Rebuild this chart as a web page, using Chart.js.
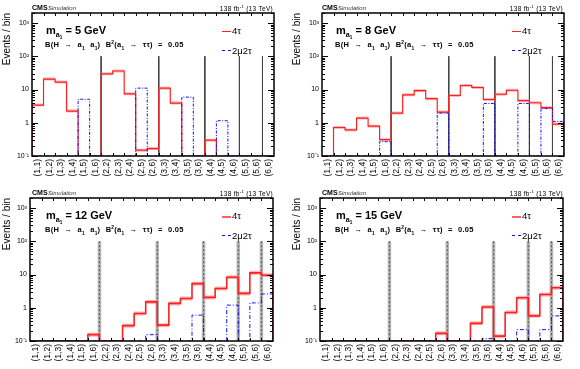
<!DOCTYPE html>
<html><head><meta charset="utf-8">
<script src="https://cdn.jsdelivr.net/npm/chart.js@4.4.0/dist/chart.umd.min.js"></script>
<style>
html,body{margin:0;padding:0;background:#fff}
body{width:580px;height:369px;overflow:hidden;position:relative;font-family:"Liberation Sans",Arial,sans-serif}
.p{position:absolute;width:290px;height:185px}
.p canvas{position:absolute;left:0;top:0}
.t{position:absolute;white-space:nowrap;color:#000;line-height:1}
.cms{font-weight:bold;font-size:7px;left:32px;top:4px}
.sim{font-style:italic;font-size:6px;left:48px;top:5px;color:#333}
.lumi{font-size:6.5px;right:17px;top:6px;letter-spacing:0.3px}
.mass{font-size:11px;left:46px;top:25px;font-weight:bold}
.br{font-size:7.5px;left:45px;top:40.5px;word-spacing:3px;letter-spacing:0.25px;font-weight:bold}
.t sub,.t sup{font-size:65%;line-height:0}
.leg{font-size:9.5px;left:232px}
.ls{position:absolute;left:222px;width:9px;height:0}
</style></head><body>
<div class="p" id="p0" style="left:0;top:0"><canvas id="c0" width="290" height="185"></canvas></div>
<div class="p" id="p1" style="left:290px;top:0"><canvas id="c1" width="290" height="185"></canvas></div>
<div class="p" id="p2" style="left:0;top:185px"><canvas id="c2" width="290" height="185"></canvas></div>
<div class="p" id="p3" style="left:290px;top:185px"><canvas id="c3" width="290" height="185"></canvas></div>
<script>
// ---- data ----
const categories = ['(1,1)','(1,2)','(1,3)','(1,4)','(1,5)','(1,6)','(2,2)','(2,3)','(2,4)','(2,5)','(2,6)','(3,3)','(3,4)','(3,5)','(3,6)','(4,4)','(4,5)','(4,6)','(5,5)','(5,6)','(6,6)'];
const yTickValues = [0.1, 1, 10, 100, 1000];
const yTickLabels = ['10\u207B\u00B9', '1', '10', '10\u00B2', '10\u00B3'];
const groupBoundaries = [6, 11, 15, 18, 20];
const massLabels = ['5', '8', '12', '15'];
const seriesNames = ['4\u03C4', '2\u03BC2\u03C4'];

const m5_4tau     = [3.4, 20.6, 16.7, 2.25, 0, 0, 29.7, 36, 7.4, 0.15, 0.167, 11, 3.9, 0, 0, 0.3, 0, 0, 0, 0, 0];
const m5_2mu2tau  = [0, 0, 0, 0, 5.1, 0, 0, 0, 0, 11, 0, 0, 0, 5.9, 0, 0, 1.15, 0, 0, 0, 0];
const m8_4tau     = [0, 0.72, 0.61, 1.38, 0.79, 0.31, 1.96, 6.9, 9.3, 5.3, 2.1, 6.6, 13.2, 11.5, 5.0, 7.2, 9.5, 4.6, 4.0, 2.85, 0.91];
const m8_2mu2tau  = [0, 0, 0, 0, 0, 0.27, 0, 0, 0, 0, 1.96, 0, 0, 0, 3.8, 0, 0, 3.8, 0, 2.7, 1.1];
const m12_4tau    = [0, 0, 0, 0, 0, 0.155, 0, 0, 0.29, 0.67, 1.5, 0.3, 1.35, 1.9, 5.3, 2.05, 3.8, 8.3, 2.7, 11.2, 9.5];
const m12_2mu2tau = [0, 0, 0, 0, 0, 0, 0, 0, 0, 0, 0.155, 0, 0, 0, 0.6, 0, 0, 1.2, 0, 1.4, 2.6];
const m15_4tau    = [0, 0, 0, 0, 0, 0, 0, 0, 0, 0, 0.17, 0, 0, 0.34, 1.05, 0.14, 0.72, 2.0, 0.57, 2.5, 4.0];
const m15_2mu2tau = [0, 0, 0, 0, 0, 0, 0, 0, 0, 0, 0, 0, 0, 0, 0.118, 0, 0, 0.22, 0, 0.22, 0.57];

const Y_MIN = 0.1, Y_MAX = 2000;

// ---- helpers ----
function histPoints(vals){
  const pts = [{x:0, y:Y_MIN}];
  vals.forEach((v,i)=>pts.push({x:i, y: v>0 ? v : Y_MIN}));
  const last = vals[vals.length-1];
  pts.push({x:vals.length, y: last>0 ? last : Y_MIN});
  pts.push({x:vals.length, y:Y_MIN});
  return pts;
}
function bandPoints(vals){
  const pts = [];
  vals.forEach((v,i)=>{ if(v>0){ pts.push({x:i,y:v},{x:i+1,y:v},{x:i+1,y:null}); } });
  return pts;
}

const frameTicks = {
  id:'frameTicks',
  afterDraw(chart){
    const {ctx, chartArea:a, scales:{x, y}} = chart;
    ctx.save();
    ctx.strokeStyle = '#000';
    ctx.lineWidth = 1;
    ctx.beginPath();
    for(let i=1;i<categories.length;i++){
      const px = Math.round(x.getPixelForValue(i))+0.5;
      ctx.moveTo(px, a.bottom); ctx.lineTo(px, a.bottom-3);
      ctx.moveTo(px, a.top); ctx.lineTo(px, a.top+3);
    }
    for(let d=-1; d<=3; d++){
      for(let k=1;k<=9;k++){
        const v = k*Math.pow(10,d);
        if(v<Y_MIN || v>Y_MAX) continue;
        const py = Math.round(y.getPixelForValue(v))+0.5;
        const len = k===1 ? 6 : 3;
        ctx.moveTo(a.left, py); ctx.lineTo(a.left+len, py);
        ctx.moveTo(a.right, py); ctx.lineTo(a.right-len, py);
      }
    }
    ctx.stroke();
    ctx.lineWidth = 1.5;
    ctx.strokeRect(a.left, a.top, a.right-a.left, a.bottom-a.top);
    ctx.restore();
  }
};

function makeChart(idx, vals4, vals2, bottomStyle, left, right){
  const datasets = [];
  datasets.push({label:seriesNames[1], data:histPoints(vals2), stepped:'before', borderColor:'#1010ff',
    borderWidth:1, borderDash: bottomStyle ? [4,2,1,2] : [3,1.5,1,1.5], pointRadius:0, fill:false});
  datasets.push({label:seriesNames[0], data:histPoints(vals4), stepped:'before', borderColor:'#ff2020',
    borderWidth: bottomStyle ? 1.6 : 1.2, pointRadius:0, fill:false});
  datasets.push({label:'band', data:bandPoints(vals4), borderColor:'rgba(255,120,120,0.55)',
    borderWidth: bottomStyle ? 4 : 3, pointRadius:0, fill:false, spanGaps:false});
  groupBoundaries.forEach(b=>{
    if(bottomStyle){
      datasets.push({label:'sepd', data:[{x:b,y:100},{x:b,y:Y_MIN}], borderColor:'#555', borderWidth:1,
        borderDash:[2,2], pointRadius:0, fill:false});
      datasets.push({label:'sep', data:[{x:b,y:100},{x:b,y:Y_MIN}], borderColor:'rgba(150,150,150,0.7)', borderWidth:3.5,
        pointRadius:0, fill:false});
    } else {
      datasets.push({label:'sep', data:[{x:b,y:100},{x:b,y:Y_MIN}], borderColor:'#444', borderWidth:1,
        pointRadius:0, fill:false});
    }
  });
  return new Chart(document.getElementById('c'+idx), {
    type:'line',
    data:{datasets},
    options:{
      responsive:false, animation:false, devicePixelRatio:1,
      layout:{padding:{left:0, top:13, right:290-right, bottom:0}},
      plugins:{legend:{display:false}, tooltip:{enabled:false}},
      scales:{
        x:{type:'linear', min:0, max:categories.length,
          grid:{display:false, drawTicks:false}, border:{display:false},
          afterBuildTicks:(s)=>{ s.ticks = categories.map((c,i)=>({value:i+0.5})); },
          afterFit:(s)=>{ s.height = 185-156; },
          ticks:{autoSkip:false, maxRotation:90, minRotation:90, padding:3, color:'#000',
            font:{family:'"Liberation Sans", Arial, sans-serif', size:8.5},
            callback:(v,i)=>categories[i]}
        },
        y:{type:'logarithmic', min:Y_MIN, max:Y_MAX,
          grid:{display:false, drawTicks:false}, border:{display:false},
          afterBuildTicks:(s)=>{ s.ticks = yTickValues.map(v=>({value:v})); },
          afterFit:(s)=>{ s.width = left; },
          title:{display:true, text:'Events / bin', align:'end', color:'#000',
            font:{family:'"Liberation Sans", Arial, sans-serif', size:10}, padding:{top:1,bottom:0}},
          ticks:{padding:3, color:'#000', font:{family:'"Liberation Sans", Arial, sans-serif', size:7},
            callback:(v)=>{ const k = yTickValues.findIndex(t=>Math.abs(t-v)/t<1e-6); return k>=0 ? yTickLabels[k] : ''; }}
        }
      }
    },
    plugins:[frameTicks]
  });
}

makeChart(0, m5_4tau, m5_2mu2tau, false, 32, 274);
makeChart(1, m8_4tau, m8_2mu2tau, false, 32, 274);
makeChart(2, m12_4tau, m12_2mu2tau, true, 30, 273);
makeChart(3, m15_4tau, m15_2mu2tau, true, 30, 273);

// ---- text overlays ----
const sub1 = '<sub>1</sub>';
function addText(i){
  const p = document.getElementById('p'+i);
  const bottom = i>=2;
  const html = `
  <div class="t cms">CMS</div>
  <div class="t sim">Simulation</div>
  <div class="t lumi">138 fb<sup>-1</sup> (13 TeV)</div>
  <div class="t mass">m<sub>a<sub>1</sub></sub> = ${massLabels[i]} GeV</div>
  <div class="t br">B(H \u2192 a${sub1} a${sub1}) B<sup>2</sup>(a${sub1} \u2192 \u03C4\u03C4) = 0.05</div>
  <div class="ls" style="top:31px;border-top:${bottom?'2.5px':'1.5px'} solid ${bottom?'#ff6060':'#ff2020'}"></div>
  <div class="t leg" style="top:25.5px">${seriesNames[0]}</div>
  <div class="ls" style="top:50px;border-top:1.5px dashed #1010ff"></div>
  <div class="t leg" style="top:45.5px">${seriesNames[1]}</div>`;
  p.insertAdjacentHTML('beforeend', html);
}
[0,1,2,3].forEach(addText);
</script>
</body></html>
